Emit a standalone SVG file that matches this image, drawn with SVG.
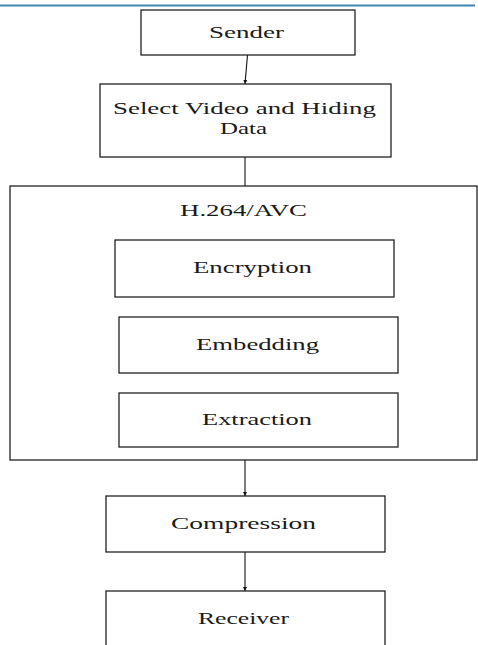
<svg xmlns="http://www.w3.org/2000/svg" width="478" height="645" viewBox="0 0 478 645">
<style>
.box{fill:#fff;stroke:#222;stroke-width:1.3}
.t{font-family:"Liberation Serif","Times New Roman",serif;font-size:17px;fill:#1a1a1a}
.c{stroke:#111;stroke-width:1.1;fill:none}
</style>
<defs>
<marker id="ah" viewBox="0 0 6 6" refX="6" refY="3" markerWidth="4" markerHeight="4" orient="auto" markerUnits="userSpaceOnUse">
<path d="M0,0L6,3L0,6z" fill="#111"/>
</marker>
</defs>
<rect width="478" height="645" fill="#fff"/>
<line x1="0" y1="5.5" x2="475" y2="5.5" stroke="#3f86b0" stroke-width="2"/>
<g id="connectors">
<line class="c" x1="247.5" y1="55" x2="245" y2="84" marker-end="url(#ah)"/>
<line class="c" x1="245" y1="157" x2="245" y2="186"/>
<line class="c" x1="245" y1="460" x2="245" y2="496" marker-end="url(#ah)"/>
<line class="c" x1="245" y1="552" x2="245" y2="591" marker-end="url(#ah)"/>
</g>
<g id="sender"><rect class="box" x="141" y="10" width="214" height="45"/><text class="t" x="209" y="38" textLength="75" lengthAdjust="spacingAndGlyphs">Sender</text></g>
<g id="select"><rect class="box" x="100" y="84" width="291" height="73"/><text class="t" x="113" y="114" textLength="263" lengthAdjust="spacingAndGlyphs">Select Video and Hiding</text><text class="t" x="220" y="134" textLength="47" lengthAdjust="spacingAndGlyphs">Data</text></g>
<g id="h264"><rect class="box" x="10" y="186" width="467" height="274"/><text class="t" x="180" y="216" textLength="127" lengthAdjust="spacingAndGlyphs">H.264/AVC</text></g>
<g id="encryption"><rect class="box" x="115" y="240" width="279" height="57"/><text class="t" x="193" y="273" textLength="119" lengthAdjust="spacingAndGlyphs">Encryption</text></g>
<g id="embedding"><rect class="box" x="119" y="317" width="279" height="56"/><text class="t" x="196" y="350" textLength="123" lengthAdjust="spacingAndGlyphs">Embedding</text></g>
<g id="extraction"><rect class="box" x="119" y="393" width="279" height="54"/><text class="t" x="202" y="425" textLength="110" lengthAdjust="spacingAndGlyphs">Extraction</text></g>
<g id="compression"><rect class="box" x="106" y="496" width="279" height="56"/><text class="t" x="171" y="529" textLength="145" lengthAdjust="spacingAndGlyphs">Compression</text></g>
<g id="receiver"><rect class="box" x="106" y="591" width="279" height="60"/><text class="t" x="198" y="624" textLength="91" lengthAdjust="spacingAndGlyphs">Receiver</text></g>
</svg>
